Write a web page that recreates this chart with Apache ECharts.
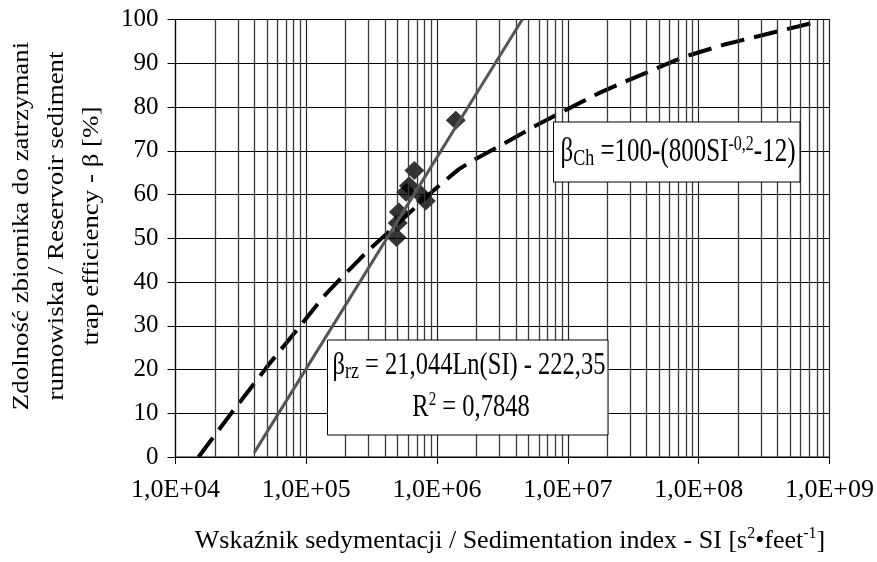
<!DOCTYPE html>
<html>
<head>
<meta charset="utf-8">
<script src="https://cdn.jsdelivr.net/npm/echarts@6/dist/echarts.min.js"></script>
<style>
html,body{margin:0;padding:0;background:#fff;}
#chart{width:877px;height:562px;}
</style>
</head>
<body>
<div id="chart"></div>
<script>
// ---- data ----
const xTickValues = [1e4, 1e5, 1e6, 1e7, 1e8, 1e9];
const xTickLabels = ['1,0E+04', '1,0E+05', '1,0E+06', '1,0E+07', '1,0E+08', '1,0E+09'];
const yTickValues = [0, 10, 20, 30, 40, 50, 60, 70, 80, 90, 100];

// observed reservoirs (diamonds)
const obsSI   = [1.39e6, 6.7e5, 6.1e5, 5.8e5, 7.5e5, 8.2e5, 5.1e5, 5.0e5, 4.9e5];
const obsBeta = [77, 65.5, 62, 60.5, 60, 58.5, 56, 53.5, 50.2];

// fitted trend line beta_rz (solid grey)
const trendSI   = [4.0e4, 4.48e6];
const trendBeta = [1, 100];

// Churchill curve beta_Ch (dashed black)
const chSI   = [1.5e4, 2.0e4, 2.75e4, 5.25e4, 8.9e4, 1.34e5, 1.79e5, 3.0e5, 6.1e5, 9.46e5,
                1.47e6, 1.91e6, 3.05e6, 6.15e6, 1.71e7, 2.73e7, 7.8e7, 1.58e8, 7.6e8];
const chBeta = [0, 5.0, 10.5, 21.4, 29.8, 36.5, 40.5, 47.3, 55.7, 61,
                65.8, 67.9, 71.2, 76.3, 83.1, 85.8, 91.5, 94.3, 99.3];

const minorMultipliers = [2, 3, 4, 5, 6, 7, 8, 9];

// ---- build ----
const pair = (xs, ys) => xs.map((x, i) => [x, ys[i]]);
const minorLines = [];
for (let d = 0; d < xTickValues.length - 1; d++) {
  minorMultipliers.forEach(m => minorLines.push({ xAxis: xTickValues[d] * m }));
}
const FONT = 'Liberation Serif';

const chart = echarts.init(document.getElementById('chart'));
chart.setOption({
  animation: false,
  backgroundColor: '#fff',
  grid: { left: 175.5, right: 45, top: 19.5, bottom: 105, show: true, borderColor: '#000', borderWidth: 1, backgroundColor: 'transparent' },
  xAxis: {
    type: 'log', logBase: 10, min: 1e4, max: 1e9,
    axisLine: { show: true, onZero: false, lineStyle: { color: '#000', width: 1.2 } },
    axisTick: { show: true, length: 7, lineStyle: { color: '#000' } },
    splitLine: { show: true, lineStyle: { color: '#222', width: 1.2 } },
    axisLabel: {
      margin: 20, color: '#000', fontFamily: FONT, fontSize: 26,
      formatter: v => {
        const i = xTickValues.findIndex(t => Math.abs(Math.log10(t) - Math.log10(v)) < 1e-6);
        return i >= 0 ? xTickLabels[i] : '';
      }
    }
  },
  yAxis: {
    type: 'value', min: 0, max: 100, interval: 10,
    axisLine: { show: true, lineStyle: { color: '#000', width: 1.2 } },
    axisTick: { show: true, length: 8, lineStyle: { color: '#000' } },
    splitLine: { show: true, lineStyle: { color: '#000', width: 1.2 } },
    axisLabel: { margin: 17, color: '#000', fontFamily: FONT, fontSize: 25,
      formatter: v => (yTickValues.indexOf(v) >= 0 ? String(v) : '') }
  },
  series: [
    {
      type: 'line', data: [], z: 1, silent: true,
      markLine: { silent: true, symbol: 'none', animation: false, label: { show: false },
        lineStyle: { color: '#3a3a3a', width: 1.3, type: 'solid' }, data: minorLines }
    },
    {
      name: 'obs', type: 'scatter', data: pair(obsSI, obsBeta), symbol: 'diamond', symbolSize: [20, 19],
      itemStyle: { color: '#000' }, z: 3
    },
    {
      name: 'Churchill', type: 'line', data: pair(chSI, chBeta), symbol: 'none', smooth: false, z: 4,
      lineStyle: { color: '#000', width: 4, type: [24, 10] }
    },
    {
      name: 'trend', type: 'line', data: pair(trendSI, trendBeta), symbol: 'none', z: 5,
      lineStyle: { color: '#555', width: 3 }
    }
  ],
  graphic: [
    // box: Churchill formula
    { type: 'rect', z: 100, shape: { x: 553.5, y: 122, width: 246.5, height: 60 },
      style: { fill: '#fff', stroke: '#000', lineWidth: 1 } },
    { type: 'text', z: 101, x: 678, y: 152, scaleY: 1.32,
      style: { text: '{n|β}{s|Ch}{n| =100-(800SI}{p|-0,2}{n|-12)}', align: 'center', verticalAlign: 'middle',
        rich: {
          n: { fontFamily: FONT, fontSize: 25, color: '#000', lineHeight: 28 },
          s: { fontFamily: FONT, fontSize: 18, color: '#000', lineHeight: 22, verticalAlign: 'bottom' },
          p: { fontFamily: FONT, fontSize: 16, color: '#000', lineHeight: 16, verticalAlign: 'top' }
        } } },
    // box: regression formula
    { type: 'rect', z: 100, shape: { x: 327.5, y: 340, width: 280.5, height: 95 },
      style: { fill: '#fff', stroke: '#000', lineWidth: 1 } },
    { type: 'text', z: 101, x: 469, y: 366, scaleY: 1.25,
      style: { text: '{n|β}{s|rz}{n| = 21,044Ln(SI) - 222,35}', align: 'center', verticalAlign: 'middle',
        rich: {
          n: { fontFamily: FONT, fontSize: 24.5, color: '#000', lineHeight: 28 },
          s: { fontFamily: FONT, fontSize: 18, color: '#000', lineHeight: 22, verticalAlign: 'bottom' }
        } } },
    { type: 'text', z: 101, x: 471, y: 408, scaleY: 1.25,
      style: { text: '{n|R}{p|2}{n| = 0,7848}', align: 'center', verticalAlign: 'middle',
        rich: {
          n: { fontFamily: FONT, fontSize: 24.5, color: '#000', lineHeight: 28 },
          p: { fontFamily: FONT, fontSize: 15, color: '#000', lineHeight: 15, verticalAlign: 'top' }
        } } },
    // x axis title
    { type: 'text', z: 50, x: 510, y: 541,
      style: { text: '{n|Wskaźnik sedymentacji / Sedimentation index - SI [s}{p|2}{n|•feet}{p|-1}{n|]}',
        align: 'center', verticalAlign: 'middle',
        rich: {
          n: { fontFamily: FONT, fontSize: 26, color: '#000', lineHeight: 30 },
          p: { fontFamily: FONT, fontSize: 16, color: '#000', lineHeight: 16, verticalAlign: 'top' }
        } } },
    // y axis title
    { type: 'text', z: 50, x: 57, y: 226, rotation: Math.PI / 2, scaleX: 1.17,
      style: { text: 'Zdolność zbiornika do zatrzymani\nrumowiska / Reservoir sediment\ntrap efficiency - β [%]',
        align: 'center', verticalAlign: 'middle', fontFamily: FONT, fontSize: 23, lineHeight: 35, fill: '#000' } }
  ]
});
</script>
</body>
</html>
